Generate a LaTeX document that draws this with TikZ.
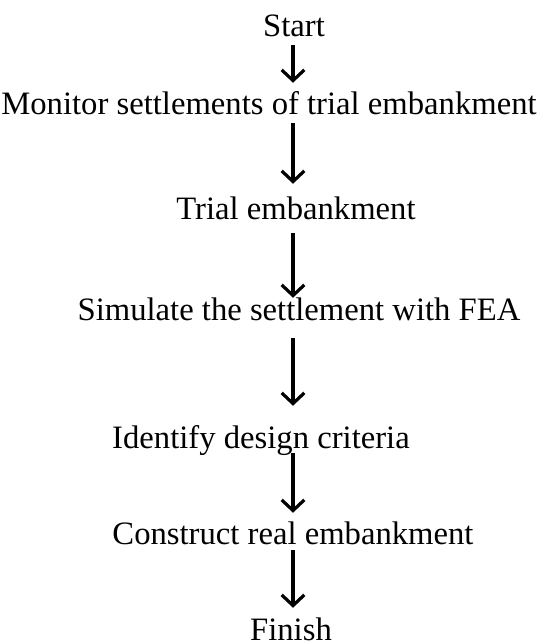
\documentclass[tikz,border=0pt]{standalone}
\usepackage{fontspec}
\setmainfont{Liberation Serif}
\usetikzlibrary{arrows.meta}

\tikzset{
  stage/.style={anchor=base, inner sep=0pt, text height=16.5pt, text depth=5.25pt,
    font=\fontsize{24.5}{28}\selectfont},
  flow/.style={line width=2.4pt, -{Straight Barb[length=8pt, width=17pt, line width=2.4pt]}},
}

\begin{document}
\begin{tikzpicture}[x=0.75pt, y=-0.75pt]
  \useasboundingbox (0,0) rectangle (541,644);

  % vertical line on which all arrows sit
  \coordinate (axis) at (293,0);

  \node[stage] (start)     at (294,36)  {Start};
  \node[stage] (monitor)   at (269,114) {Monitor settlements of trial embankment};
  \node[stage] (trial)     at (296,219) {Trial embankment};
  \node[stage] (simulate)  at (299,320) {Simulate the settlement with FEA};
  \node[stage] (identify)  at (261,448) {Identify design criteria};
  \node[stage] (construct) at (293,544) {Construct real embankment};
  \node[stage] (finish)    at (291,640) {Finish};

  \draw[flow, shorten <=1.5pt,  shorten >=6.75pt] (start.south -| axis)     -- (monitor.north -| axis);
  \draw[flow, shorten <=1.5pt,  shorten >=9.75pt] (monitor.south -| axis)   -- (trial.north -| axis);
  \draw[flow, shorten <=5.25pt, shorten >=0pt]    (trial.south -| axis)     -- (simulate.north -| axis);
  \draw[flow, shorten <=8.25pt, shorten >=15pt]   (simulate.south -| axis)  -- (identify.north -| axis);
  \draw[flow, shorten <=-1.5pt, shorten >=6.75pt] (identify.south -| axis)  -- (construct.north -| axis);
  \draw[flow, shorten <=-0.75pt,shorten >=7.5pt]  (construct.south -| axis) -- (finish.north -| axis);
\end{tikzpicture}
\end{document}
